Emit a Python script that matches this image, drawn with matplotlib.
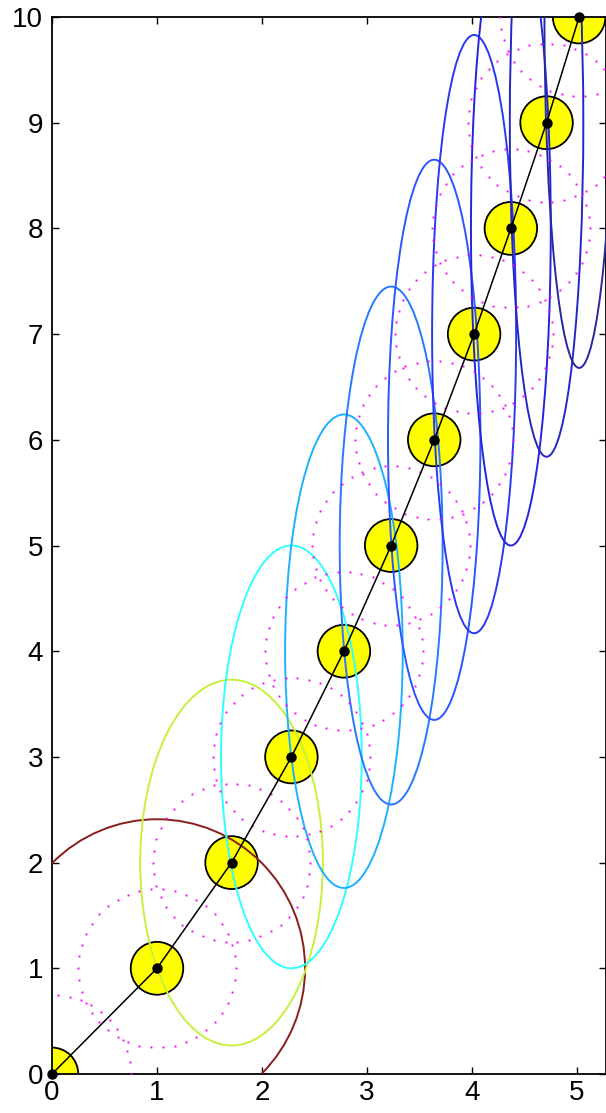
import numpy as np
import matplotlib.pyplot as plt
from matplotlib.patches import Circle, Ellipse

plt.rcParams['font.family'] = ['Liberation Sans', 'DejaVu Sans']

# path points
px = [0, 1, 1.71, 2.28, 2.78, 3.23, 3.64, 4.02, 4.37, 4.71, 5.02]
py = [0, 1, 2, 3, 4, 5, 6, 7, 8, 9, 10]

# solid ellipses (one per point from the second on)
ell_w = [1.41, 0.87, 0.67, 0.56, 0.49, 0.44, 0.40, 0.38, 0.35, 0.33]   # half width
ell_h = [1.41, 1.73, 2.00, 2.24, 2.45, 2.65, 2.83, 3.00, 3.16, 3.32]   # half height
ell_c = ['#8c1c1c', '#c4f23c', '#30ffff', '#1eb0ff', '#2878ff',
         '#2c55ff', '#2a38f0', '#2424dd', '#2626c4', '#28289f']

r_small = 0.25   # yellow disc radius
r_dot = 0.75     # magenta dotted circle radius

fig = plt.figure(figsize=(6.06, 11.13), dpi=100)
ax = fig.add_axes([52/606, 39/1113, 554/606, 1057/1113])

for x, y in zip(px, py):
    ax.add_patch(Circle((x, y), r_small, facecolor='yellow', edgecolor='black', lw=1.3, zorder=2))

for i in range(len(ell_w)):
    ax.add_patch(Ellipse((px[i+1], py[i+1]), 2*ell_w[i], 2*ell_h[i], fill=False,
                         edgecolor=ell_c[i], lw=1.4, zorder=3))

t = np.linspace(0, 2*np.pi, 42, endpoint=False)
for x, y in zip(px, py):
    ax.plot(x + r_dot*np.cos(t), y + r_dot*np.sin(t), ls='none', marker='s',
            ms=1.4, mew=0, color='#ff00ff', zorder=4)

ax.plot(px, py, '-', color='black', lw=1.1, marker='o', ms=6.5, clip_on=False, zorder=5)

ax.set_xlim(0, 5.276)
ax.set_ylim(0, 10)
ax.set_xticks(range(0, 6))
ax.set_yticks(range(0, 11))
ax.tick_params(direction='in', top=True, right=True, length=5, width=1, labelsize=20)
ax.tick_params(axis='x', pad=4.5)
ax.tick_params(axis='y', pad=6.5)
for s in ax.spines.values():
    s.set_linewidth(1.3)

fig.savefig('out.png', dpi=100)
